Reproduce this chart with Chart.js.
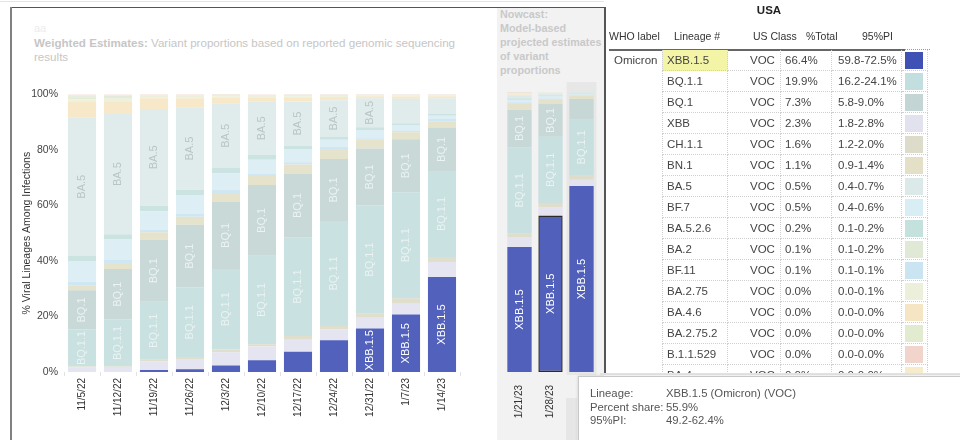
<!DOCTYPE html>
<html>
<head>
<meta charset="utf-8">
<script src="https://cdn.jsdelivr.net/npm/chart.js@4.4.1/dist/chart.umd.min.js"></script>
<style>
  body { margin: 0; background: #fff; font-family: Arial, "Liberation Sans", sans-serif; }
  #page { position: relative; width: 960px; height: 440px; overflow: hidden; }
  .abs { position: absolute; }
  .cell { position: absolute; box-sizing: border-box; height: 21px; line-height: 20px;
          border-right: 1px dotted #cfcfcf; border-bottom: 1px dotted #cfcfcf;
          font-size: 11.5px; color: #444; white-space: nowrap; padding-left: 4px; }
  .head { position: absolute; top: 29px; line-height: 14px; font-size: 10.5px; color: #333; white-space: nowrap; }
  .tip-row { height: 13.5px; line-height: 13.5px; white-space: nowrap; }
</style>
</head>
<body>
<div id="page">
  <div class="abs" style="left:0;top:1px;width:604px;height:1px;background:#e4e4e4"></div>
  <div class="abs" id="nowcast-panel" style="left:497px;top:8px;width:107px;height:432px;background:#f2f2f2"></div>
  <div class="abs" style="left:10px;top:7px;width:596px;height:1px;background:#555"></div>
  <div class="abs" style="left:10px;top:7px;width:2px;height:433px;background:#818181"></div>

  <div class="abs" style="left:34px;top:21px;line-height:14px;font-size:11px;color:#ececec">aa</div>
  <div class="abs" style="left:34px;top:36px;line-height:14px;font-size:11.6px;color:#c6c6c6;white-space:nowrap">
    <b>Weighted Estimates:</b> Variant proportions based on reported genomic sequencing<br>results
  </div>
  <div class="abs" style="left:500px;top:7px;line-height:14px;font-size:10.8px;font-weight:bold;color:#c9c9c9;white-space:nowrap">
    Nowcast:<br>Model-based<br>projected estimates<br>of variant<br>proportions
  </div>

  <div class="abs" style="left:12px;top:82px;width:478px;height:358px"><canvas id="weighted"></canvas></div>
  <div class="abs" style="left:497px;top:82px;width:107px;height:358px"><canvas id="nowcast"></canvas></div>

  <div class="abs" id="table-clip" style="left:0;top:0;width:960px;height:374px;overflow:hidden">
    <div class="abs" style="left:604px;top:7px;width:2px;height:367px;background:#555"></div>
    <div class="abs" style="left:700px;top:3px;width:138px;text-align:center;line-height:14px;font-size:11.5px;font-weight:bold;color:#222">USA</div>
    <div class="head" style="left:609px">WHO label</div>
    <div class="head" style="left:674px">Lineage #</div>
    <div class="head" style="left:753px">US Class</div>
    <div class="head" style="left:806px">%Total</div>
    <div class="head" style="left:862px">95%PI</div>
    <div class="abs" style="left:609px;top:49px;width:296px;height:2px;background:#666"></div>
    <div class="abs" style="left:905px;top:49px;width:25px;border-top:1px dotted #999"></div>
    <div id="rows"></div>
  </div>
  <div class="abs" style="left:600px;top:373px;width:360px;height:2px;background:#e4e4e4"></div>

  <div class="abs" style="left:566px;top:398px;width:11px;height:42px;background:#e6e6e6"></div>
  <div class="abs" id="tip" style="left:578px;top:376px;width:390px;height:70px;background:#fff;border:1px solid #c8c8c8;box-shadow:0 0 3px rgba(0,0,0,0.15);font-size:11.3px;color:#555;box-sizing:border-box;padding:10px 0 0 11px">
    <div class="tip-row"><span style="display:inline-block;width:76px">Lineage:</span>XBB.1.5 (Omicron) (VOC)</div>
    <div class="tip-row"><span style="display:inline-block;width:76px">Percent share:</span>55.9%</div>
    <div class="tip-row"><span style="display:inline-block;width:76px">95%PI:</span>49.2-62.4%</div>
  </div>
</div>

<script>
// weekly labels, last three are the nowcast weeks
const weeks = ["11/5/22", "11/12/22", "11/19/22", "11/26/22", "12/3/22", "12/10/22", "12/17/22", "12/24/22", "12/31/22", "1/7/23", "1/14/23"];
const nowcastWeeks = ["1/21/23", "1/28/23", "2/4/23"];
const yTicks = [0, 20, 40, 60, 80, 100];

// share of each lineage (%), 11 weighted weeks then 3 nowcast weeks
const sXBB15 = [0, 0, 0.7, 1.0, 2.3, 4.2, 7.3, 11.4, 15.7, 20.7, 34.2, 44.6, 55.9, 66.4];
const sXBB = [1.7, 1.5, 3.1, 3.7, 4.8, 5.0, 4.3, 3.9, 3.8, 3.9, 5.4, 3.5, 2.9, 2.3];
const sCH11 = [0.3, 0.5, 0.6, 0.7, 1.0, 0.8, 1.4, 1.3, 1.5, 2.0, 1.8, 1.5, 1.6, 1.6];
const sBQ11 = [13.3, 16.9, 20.9, 25.0, 29.0, 31.9, 35.5, 37.8, 39.0, 38.1, 31.0, 30.6, 23.6, 19.9];
const sBQ1 = [14.1, 18.2, 22.3, 22.6, 24.2, 25.4, 22.9, 22.3, 20.5, 19.1, 15.5, 13.5, 11.7, 7.3];
const sBN1 = [1.8, 1.8, 2.7, 2.9, 3.2, 3.3, 3.3, 3.6, 3.1, 2.5, 2.4, 2.1, 1.5, 1.1];
const sBF11 = [1.2, 1.4, 1.0, 1.0, 1.1, 0.8, 0.8, 0.7, 0.6, 0.5, 0.8, 0.5, 0.4, 0.1];
const sBF7 = [7.6, 7.4, 6.6, 6.8, 6.0, 5.0, 4.8, 2.6, 2.9, 2.1, 1.2, 0.9, 0.8, 0.5];
const sBA526 = [1.8, 1.9, 2.0, 1.9, 1.9, 1.8, 1.2, 1.0, 1.0, 0.7, 0.7, 0.5, 0.4, 0.2];
const sBA5 = [49.8, 43.3, 34.8, 29.7, 23.1, 19.1, 15.9, 13.3, 10.5, 8.8, 5.6, 1.1, 0.6, 0.5];
const sBA46 = [5.6, 4.6, 3.9, 3.3, 2.1, 1.4, 1.5, 1.1, 0.7, 0.8, 0.7, 0.3, 0.2, 0];
const sBA275 = [1.0, 0.9, 0.5, 0.5, 0.5, 0.4, 0.4, 0.4, 0.3, 0.3, 0.3, 0.3, 0.2, 0];
const sBA2752 = [0.7, 0.6, 0.4, 0.4, 0.4, 0.3, 0.3, 0.2, 0.1, 0.2, 0.1, 0.2, 0, 0];
const sBA2 = [0.4, 0.4, 0.2, 0.2, 0.2, 0.2, 0.2, 0.2, 0.1, 0.1, 0.1, 0.1, 0.1, 0.1];
const sBA4 = [0.3, 0.2, 0.1, 0.1, 0.1, 0.1, 0, 0, 0, 0, 0, 0, 0, 0];
const sB11529 = [0.3, 0.3, 0.2, 0.2, 0.2, 0.2, 0.2, 0.2, 0.2, 0.2, 0.2, 0.2, 0.1, 0];

// table for the selected nowcast week
const tableLineage = ["XBB.1.5", "BQ.1.1", "BQ.1", "XBB", "CH.1.1", "BN.1", "BA.5", "BF.7", "BA.5.2.6", "BA.2", "BF.11", "BA.2.75", "BA.4.6", "BA.2.75.2", "B.1.1.529", "BA.4"];
const tableShare = [66.4, 19.9, 7.3, 2.3, 1.6, 1.1, 0.5, 0.5, 0.2, 0.1, 0.1, 0.0, 0.0, 0.0, 0.0, 0.0];
const tableLow = [59.8, 16.2, 5.8, 1.8, 1.2, 0.9, 0.4, 0.4, 0.1, 0.1, 0.1, 0.0, 0.0, 0.0, 0.0, 0.0];
const tableHigh = [72.5, 24.1, 9.0, 2.8, 2.0, 1.4, 0.7, 0.6, 0.2, 0.2, 0.1, 0.1, 0.0, 0.0, 0.0, 0.0];

const series = {
	"XBB.1.5": sXBB15, "XBB": sXBB, "CH.1.1": sCH11, "BQ.1.1": sBQ11, "BQ.1": sBQ1,
	"BN.1": sBN1, "BF.11": sBF11, "BF.7": sBF7, "BA.5.2.6": sBA526, "BA.5": sBA5,
	"BA.4.6": sBA46, "BA.2.75": sBA275, "BA.2.75.2": sBA2752, "BA.2": sBA2, "BA.4": sBA4, "B.1.1.529": sB11529,
};
// bottom to top
const stackOrder = ["XBB.1.5", "XBB", "CH.1.1", "BQ.1.1", "BQ.1", "BN.1", "BF.11", "BF.7", "BA.5.2.6", "BA.5", "BA.4.6", "BA.2.75", "BA.2.75.2", "BA.2", "BA.4", "B.1.1.529"];

const colors = {
	"XBB.1.5": "#3f51b5", "BQ.1.1": "#c3dede", "BQ.1": "#c3d5d4", "XBB": "#e1e2ee",
	"CH.1.1": "#dddbc9", "BN.1": "#e3e0c7", "BA.5": "#dbeae9", "BF.7": "#d9edf4",
	"BA.5.2.6": "#c5e1de", "BA.2": "#dfe9d6", "BF.11": "#cae4f2", "BA.2.75": "#ecefd9",
	"BA.4.6": "#f6e5c3", "BA.2.75.2": "#e2eacf", "B.1.1.529": "#f1d5cd", "BA.4": "#f6ebcb",
};
const labelInk = { "XBB.1.5": "#ffffff", "BA.5": "#bac4c4" };

Chart.defaults.font.family = 'Arial, "Liberation Sans", sans-serif';
Chart.defaults.animation = false;

// lineage names written inside segments that are tall enough
const segmentLabels = {
	id: "segmentLabels",
	afterDatasetsDraw(chart) {
		const ctx = chart.ctx;
		ctx.save();
		ctx.font = '11px Arial, "Liberation Sans", sans-serif';
		ctx.textAlign = "center";
		ctx.textBaseline = "middle";
		chart.data.datasets.forEach((ds, i) => {
			const w = ctx.measureText(ds.label).width;
			chart.getDatasetMeta(i).data.forEach((bar) => {
				const p = bar.getProps(["x", "y", "base"], true);
				if (Math.abs(p.base - p.y) < w + 2) return;
				ctx.save();
				ctx.translate(p.x, (p.y + p.base) / 2);
				ctx.rotate(-Math.PI / 2);
				ctx.fillStyle = labelInk[ds.label] || "#ebf3f3";
				ctx.fillText(ds.label, 0, 0);
				ctx.restore();
			});
		});
		ctx.restore();
	},
};

// darker column behind the selected nowcast week
const nowcastFocus = {
	id: "nowcastFocus",
	beforeDatasetsDraw(chart) {
		const x = chart.scales.x.getPixelForValue(2);
		const { top, bottom } = chart.chartArea;
		chart.ctx.save();
		chart.ctx.fillStyle = "#e7e7e7";
		chart.ctx.fillRect(x - 15, top - 14, 30, bottom - top + 17);
		chart.ctx.restore();
	},
};

const makeDatasets = (from, to) =>
	stackOrder.map((name) => ({
		label: name,
		data: series[name].slice(from, to),
		backgroundColor: colors[name] + "e6",
		borderWidth: 0,
	}));

const xTicks = { font: { size: 10 }, color: "#333", maxRotation: 90, minRotation: 90, autoSkip: false };

new Chart(document.getElementById("weighted"), {
	type: "bar",
	data: { labels: weeks, datasets: makeDatasets(0, 11) },
	options: {
		responsive: true,
		maintainAspectRatio: false,
		layout: { padding: { top: 10, right: 30, left: 0, bottom: 0 } },
		datasets: { bar: { categoryPercentage: 1, barPercentage: 0.78 } },
		plugins: { legend: { display: false }, tooltip: { enabled: false } },
		scales: {
			x: {
				stacked: true,
				grid: { display: true, drawOnChartArea: false, tickLength: 4, color: "#e2e2e2" },
				border: { display: false },
				ticks: { ...xTicks, padding: 2 },
				afterFit: (scale) => { scale.height = 68; },
			},
			y: {
				stacked: true,
				min: 0,
				max: 100,
				grid: { display: false, drawTicks: false },
				border: { display: false },
				afterBuildTicks: (scale) => { scale.ticks = yTicks.map((v) => ({ value: v })); },
				ticks: { font: { size: 10.5 }, color: "#444", padding: 6, callback: (v) => v + "%" },
				title: {
					display: true,
					text: "% Viral Lineages Among Infections",
					font: { size: 10.5 },
					color: "#333",
					padding: { top: 9, bottom: 0 },
				},
				afterFit: (scale) => { scale.width = 52; },
			},
		},
	},
	plugins: [segmentLabels],
});

const nowcastSets = makeDatasets(11, 14);
nowcastSets[0].borderWidth = (c) => (c.dataIndex === 1 ? 1.5 : 0);
nowcastSets[0].borderColor = "#2b2b2b";
nowcastSets[0].borderSkipped = false;

new Chart(document.getElementById("nowcast"), {
	type: "bar",
	data: { labels: nowcastWeeks, datasets: nowcastSets },
	options: {
		responsive: true,
		maintainAspectRatio: false,
		layout: { padding: { top: 10, right: 7, left: 7, bottom: 0 } },
		datasets: { bar: { categoryPercentage: 1, barPercentage: 0.785 } },
		plugins: { legend: { display: false }, tooltip: { enabled: false } },
		scales: {
			x: {
				stacked: true,
				grid: { display: false },
				border: { display: false },
				// the last week's label sits under the hover box
				ticks: { ...xTicks, padding: 5, color: (c) => (c.index === 2 ? "rgba(0,0,0,0)" : "#333") },
				afterFit: (scale) => { scale.height = 68; },
			},
			y: { stacked: true, min: 0, max: 100, display: false },
		},
	},
	plugins: [nowcastFocus, segmentLabels],
});

// lineage table
const rows = document.getElementById("rows");
const cell = (left, width, top, text, extra) => {
	const d = document.createElement("div");
	d.className = "cell";
	d.style.left = left + "px";
	d.style.width = width + "px";
	d.style.top = top + "px";
	d.style.cssText += extra || "";
	d.textContent = text;
	rows.appendChild(d);
	return d;
};

tableLineage.forEach((name, i) => {
	const top = 50 + i * 21;
	if (i === 0) cell(609, 53, top, "Omicron", "border:none;padding-left:5px;");
	cell(662, 66, top, name, "border-left:1px dotted #cfcfcf;" + (i === 0 ? "background:#f4f4a6;" : ""));
	cell(728, 53, top, "VOC", "padding-left:22px;");
	cell(781, 51, top, tableShare[i].toFixed(1) + "%");
	cell(832, 70, top, tableLow[i].toFixed(1) + "-" + tableHigh[i].toFixed(1) + "%", "padding-left:6px;");
	const sw = cell(902, 26, top, "");
	const box = document.createElement("div");
	box.style.cssText = "position:absolute;left:3px;top:2px;width:18px;height:17px;background:" + colors[name];
	sw.appendChild(box);
});
</script>
</body>
</html>
